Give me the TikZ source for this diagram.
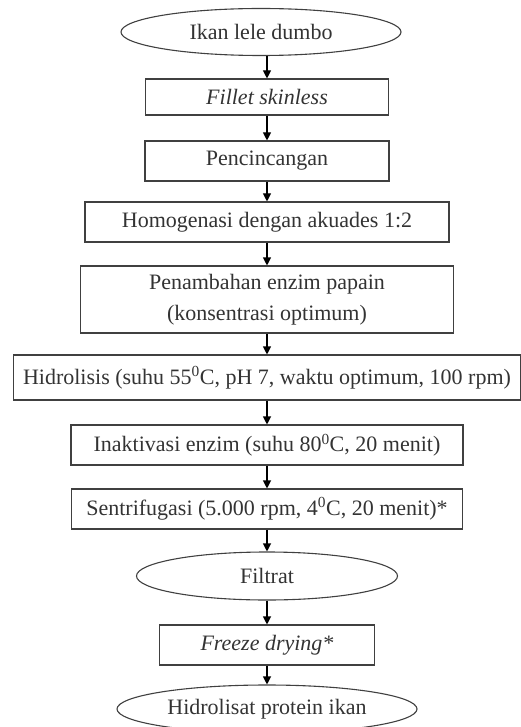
\documentclass[tikz,border=0pt]{standalone}
\usepackage{fontspec}
\setmainfont{Liberation Serif}
\usetikzlibrary{shapes.geometric,arrows.meta}

\begin{document}
\begin{tikzpicture}[x=1pt,y=-1pt,
  every node/.style={font=\fontsize{22}{31}\selectfont,text=black!80,inner sep=0pt,align=center},
  kotak/.style={draw=black!75,line width=1.1pt,rectangle},
  elips/.style={draw=black!75,line width=1.1pt,ellipse},
  panah/.style={draw=black,line width=1.1pt,-{Triangle[length=8pt,width=8pt]}}]
\useasboundingbox (0,0) rectangle (520,727);
\node[elips,minimum width=280,minimum height=47] (ikan) at (261,32) {Ikan lele dumbo};
\node[kotak,minimum width=243,minimum height=36] (fillet) at (267,97) {\textit{Fillet skinless}};
\node[kotak,minimum width=244,minimum height=40] (cincang) at (267,161) {Pencincangan};
\node[kotak,minimum width=364,minimum height=40] (homog) at (267,222) {Homogenasi dengan akuades 1:2};
\node[kotak,minimum width=373,minimum height=67] (enzim) at (267,299.5) {Penambahan enzim papain\\(konsentrasi optimum)};
\node[kotak,minimum width=507,minimum height=45] (hidro) at (267,377.5) {Hidrolisis (suhu 55\textsuperscript{0}C, pH 7, waktu optimum, 100 rpm)};
\node[kotak,minimum width=392,minimum height=40] (inakt) at (267,445) {Inaktivasi enzim (suhu 80\textsuperscript{0}C, 20 menit)};
\node[kotak,minimum width=391,minimum height=40] (sentri) at (267,509) {Sentrifugasi (5.000 rpm, 4\textsuperscript{0}C, 20 menit)*};
\node[elips,minimum width=261,minimum height=48] (filtrat) at (267,576) {Filtrat};
\node[kotak,minimum width=215,minimum height=40] (freeze) at (267,645) {\textit{Freeze drying*}};
\node[elips,minimum width=300,minimum height=48] (hasil) at (267,709) {Hidrolisat protein ikan};
\draw[panah] (ikan.south -| fillet) -- (fillet);
\draw[panah] (fillet) -- (cincang);
\draw[panah] (cincang) -- (homog);
\draw[panah] (homog) -- (enzim);
\draw[panah] (enzim) -- (hidro);
\draw[panah] (hidro) -- (inakt);
\draw[panah] (inakt) -- (sentri);
\draw[panah] (sentri) -- (filtrat);
\draw[panah] (filtrat) -- (freeze);
\draw[panah] (freeze) -- (hasil);
\end{tikzpicture}
\end{document}
